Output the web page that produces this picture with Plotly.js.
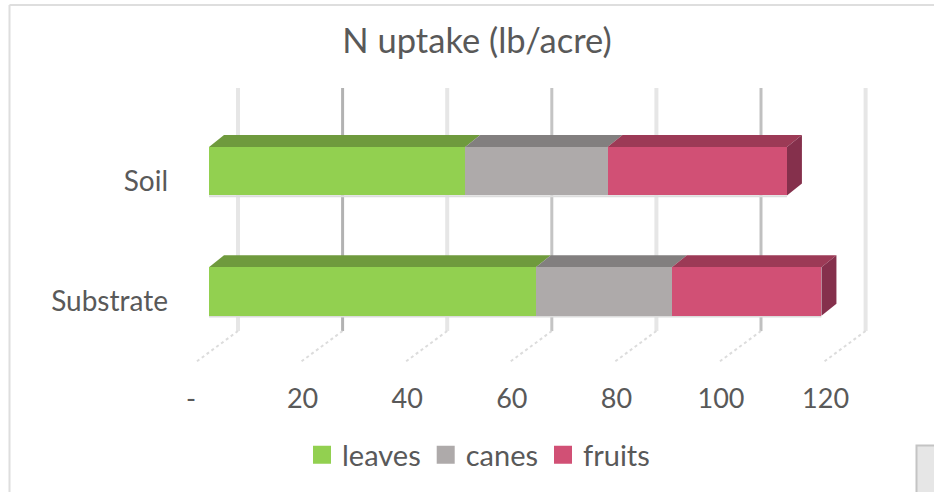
<!DOCTYPE html>
<html>
<head>
<meta charset="utf-8">
<script src="https://cdn.plot.ly/plotly-3.0.1.min.js"></script>
<style>html,body{margin:0;padding:0;background:#fff;overflow:hidden}
</style>
</head>
<body>
<div id="chart" style="width:934px;height:492px"></div>
<script>
const categories = ['Substrate', 'Soil'];
const seriesNames = ['leaves', 'canes', 'fruits'];
const leaves = [62.5, 49];
const canes = [26, 27.2];
const fruits = [28.6, 34.3];
const tickValues = [0, 20, 40, 60, 80, 100, 120];
const tickLabels = ['-\u00a0\u00a0', '20', '40', '60', '80', '100', '120'];

const seriesValues = [leaves, canes, fruits];
const frontColors = ['#92d050', '#aeaaaa', '#d15075'];
const topColors = ['#6f9a3d', '#827f7f', '#9c3a56'];
const sideColor = '#85304c';
const gridColors = ['#e6e6e6', '#b2b2b2', '#e6e6e6', '#c4c4c4', '#e6e6e6', '#c0c0c0', '#e6e6e6'];

const W = 934, H = 492, L = 180, R = 880, T = 88, B = 330;
const zeroPx = 209, pxPerUnit = 5.23, catStep = 120.3, firstCatPx = 291.5, barPx = 48.5;
const depthX = 15, depthY = 12, backX = 29;
const xRange = [(L - zeroPx) / pxPerUnit, (R - zeroPx) / pxPerUnit];
const yRange = [-(B - firstCatPx) / catStep, (firstCatPx - T) / catStep];
const dx = depthX / pxPerUnit, dy = depthY / catStep, halfBar = barPx / catStep / 2;
const px = v => (v - xRange[0]) / (xRange[1] - xRange[0]);
const pxX = p => (p - L) / (R - L);
const pxY = p => (B - p) / (B - T);
const catIdx = categories.map((_, i) => i);

const shapes = [];
// Chart frame
shapes.push({type:'line',xref:'paper',yref:'paper',x0:pxX(9.5),x1:pxX(934),y0:pxY(5),y1:pxY(5),line:{color:'#dedede',width:2},layer:'below'});
shapes.push({type:'line',xref:'paper',yref:'paper',x0:pxX(9.5),x1:pxX(9.5),y0:pxY(5),y1:pxY(492),line:{color:'#dedede',width:2},layer:'below'});
shapes.push({type:'rect',xref:'paper',yref:'paper',x0:pxX(916.5),x1:pxX(936),y0:pxY(445.5),y1:pxY(494),line:{color:'#c4c4c4',width:2},fillcolor:'#e6e6e6',layer:'below'});
// Back wall gridlines and floor lines, one for each tick
tickValues.forEach((t, i) => {
  const gx = px(t + backX / pxPerUnit);
  shapes.push({type:'line',xref:'paper',yref:'paper',x0:gx,x1:gx,y0:pxY(88),y1:pxY(331),
    line:{color:gridColors[i],width:i % 2 ? 3 : 4},layer:'below'});
  shapes.push({type:'line',xref:'paper',yref:'paper',x0:gx,x1:gx - 42/(R-L),y0:pxY(331),y1:pxY(362),
    line:{color:'#dcdcdc',width:2,dash:'dot'},layer:'below'});
});
// 3D top and end faces of each bar, derived from the stacked values
catIdx.forEach(c => {
  let start = 0;
  seriesValues.forEach((vals, s) => {
    const end = start + vals[c], top = c + halfBar;
    shapes.push({type:'path',xref:'x',yref:'y',layer:'below',line:{width:0},fillcolor:topColors[s],
      path:`M${start},${top}L${end},${top}L${end+dx},${top+dy}L${start+dx},${top+dy}Z`});
    if (s === seriesValues.length - 1) {
      const bot = c - halfBar;
      shapes.push({type:'path',xref:'x',yref:'y',layer:'below',line:{width:0},fillcolor:sideColor,
        path:`M${end},${top}L${end+dx},${top+dy}L${end+dx},${bot+dy}L${end},${bot}Z`});
    }
    start = end;
  });
  // pale lower edge
  const total = seriesValues.reduce((a, v) => a + v[c], 0);
  shapes.push({type:'line',xref:'x',yref:'y',layer:'below',x0:0,x1:total,y0:c-halfBar-0.006,y1:c-halfBar-0.006,line:{color:'#dcdcdc',width:2}});
});

const traces = seriesNames.map((name, s) => ({
  type:'bar', orientation:'h', name, x:seriesValues[s], y:catIdx, width:barPx/catStep,
  marker:{color:frontColors[s],line:{width:0}}, showlegend:false, hoverinfo:'x+y'
}));
seriesNames.forEach((name, s) => traces.push({
  type:'scatter', mode:'markers', name, x:[null], y:[null],
  marker:{symbol:'square',size:16,color:frontColors[s],line:{color:frontColors[s],width:2}}
}));

const family = 'Lato, Carlito, Calibri, sans-serif';
const font = {family, color:'#595959', size:27};
Plotly.newPlot('chart', traces, {
  width:W, height:H,
  margin:{l:L, r:W-R, t:T, b:H-B, pad:0},
  paper_bgcolor:'#ffffff', plot_bgcolor:'rgba(0,0,0,0)',
  font,
  title:{text:'N uptake (lb/acre)', font:{family,color:'#595959',size:34.5}, x:477/W, xanchor:'center', y:1-41/H, yanchor:'middle'},
  barmode:'stack', bargap:0,
  xaxis:{range:xRange, tickmode:'array', tickvals:tickValues, ticktext:tickLabels, showgrid:false, zeroline:false,
    showline:false, ticks:'', tickfont:font, ticklabelstandoff:50, ticklabelshift:-11, fixedrange:true},
  yaxis:{range:yRange, tickmode:'array', tickvals:catIdx, ticktext:categories, showgrid:false, zeroline:false,
    showline:false, ticks:'', tickfont:{family,color:'#595959',size:28}, ticklabelstandoff:11, ticklabelshift:10, fixedrange:true},
  legend:{orientation:'h', traceorder:'normal', x:pxX(302), xanchor:'left', y:pxY(455), yanchor:'middle',
    font:{family,color:'#595959',size:29}, bgcolor:'rgba(0,0,0,0)', itemclick:false, itemdoubleclick:false, tracegroupgap:0},
  shapes
}, {displayModeBar:false, responsive:false});
</script>
</body>
</html>
